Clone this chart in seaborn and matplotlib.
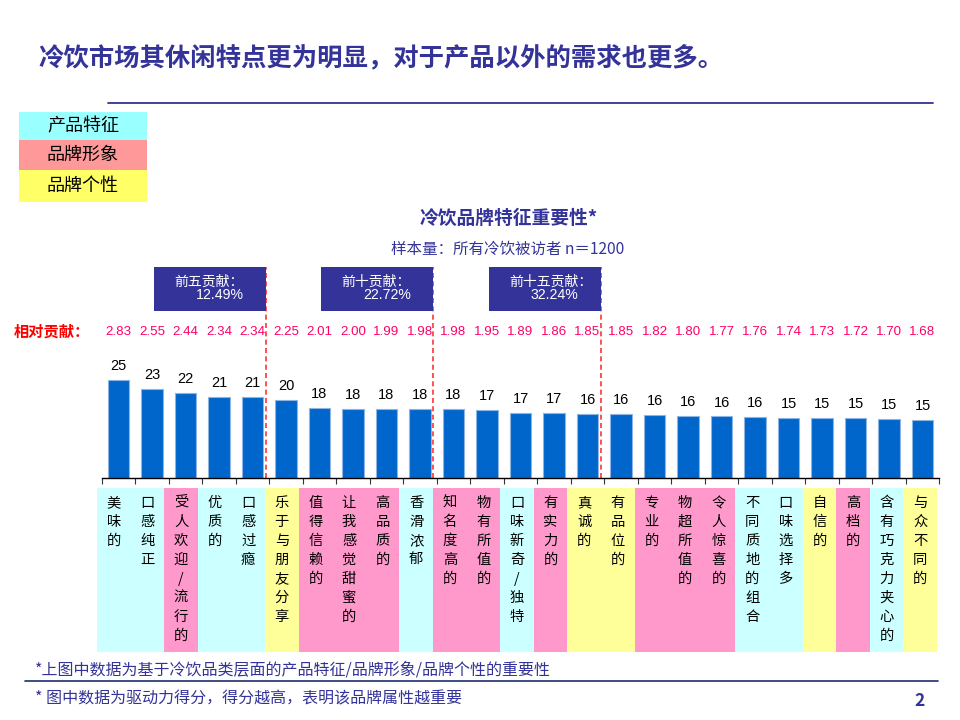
import matplotlib
matplotlib.use('Agg')
import matplotlib.pyplot as plt
from matplotlib.patches import Rectangle
from matplotlib.lines import Line2D
import seaborn as sns
import pandas as pd

# chart data
categories = ['美味的', '口感纯正', '受人欢迎/流行的', '优质的', '口感过瘾',
              '乐于与朋友分享', '值得信赖的', '让我感觉甜蜜的', '高品质的', '香滑浓郁',
              '知名度高的', '物有所值的', '口味新奇/独特', '有实力的', '真诚的',
              '有品位的', '专业的', '物超所值的', '令人惊喜的', '不同质地的组合',
              '口味选择多', '自信的', '高档的', '含有巧克力夹心的', '与众不同的']
groups = ['产品特征', '产品特征', '品牌形象', '产品特征', '产品特征',
          '品牌个性', '品牌形象', '品牌形象', '品牌形象', '产品特征',
          '品牌形象', '品牌形象', '产品特征', '品牌形象', '品牌个性',
          '品牌个性', '品牌形象', '品牌形象', '品牌形象', '产品特征',
          '产品特征', '品牌个性', '品牌形象', '产品特征', '品牌个性']
scores = [25.0, 22.6, 21.6, 20.7, 20.7, 19.9, 17.8, 17.7, 17.6, 17.5,
          17.5, 17.3, 16.7, 16.6, 16.4, 16.4, 16.1, 15.9, 15.7, 15.6,
          15.4, 15.3, 15.2, 15.0, 14.9]
contrib = [2.83, 2.55, 2.44, 2.34, 2.34, 2.25, 2.01, 2.00, 1.99, 1.98,
           1.98, 1.95, 1.89, 1.86, 1.85, 1.85, 1.82, 1.80, 1.77, 1.76,
           1.74, 1.73, 1.72, 1.70, 1.68]
cum_names = ['前五贡献：', '前十贡献：', '前十五贡献：']
cum_values = ['12.49%', '22.72%', '32.24%']
cum_after = [5, 10, 15]
legend_names = ['产品特征', '品牌形象', '品牌个性']

band_colors = {'产品特征': '#CCFFFF', '品牌形象': '#FF99CC', '品牌个性': '#FFFF99'}
legend_colors = ['#99FFFF', '#FF9999', '#FFFF66']
navy = '#333399'
num_font = ['Liberation Sans', 'DejaVu Sans']

df = pd.DataFrame({'cat': categories, 'score': scores, 'group': groups})

sns.set_style('white')
plt.rcParams['font.family'] = ['Noto Sans CJK SC', 'DejaVu Sans']

W, H = 960, 720
fig = plt.figure(figsize=(9.6, 7.2), dpi=100)


def fx(x):
    return x / W


def fy(y):
    return 1 - y / H


# headline + rule
fig.text(fx(38), fy(58), '冷饮市场其休闲特点更为明显，对于产品以外的需求也更多。',
         fontsize=18.3, fontweight='bold', color=navy, va='center', ha='left')
fig.add_artist(Line2D([fx(108), fx(933)], [fy(103), fy(103)], color=navy, lw=1.3,
                      transform=fig.transFigure))

# legend boxes
leg_y = [(112, 140), (140, 170), (170, 202)]
for name, c, (y0, y1) in zip(legend_names, legend_colors, leg_y):
    fig.add_artist(Rectangle((fx(19), fy(y1)), fx(147) - fx(19), fy(y0) - fy(y1),
                             facecolor=c, edgecolor='none', transform=fig.transFigure))
    fig.text(fx(83), fy((y0 + y1) / 2), name, fontsize=13, ha='center', va='center',
             color='black')

# chart titles
fig.text(fx(509), fy(218), '冷饮品牌特征重要性*', fontsize=13.5, fontweight='bold',
         color=navy, ha='center', va='center')
fig.text(fx(508), fy(249), '样本量：所有冷饮被访者 n＝1200', fontsize=11.2,
         color=navy, ha='center', va='center')

# bar axes
base, top = 478, 260
ax = fig.add_axes([fx(101.7), fy(base), fx(939.3) - fx(101.7), (base - top) / H])
px_per_unit = 3.92
ymax = (base - top) / px_per_unit
sns.barplot(data=df, x='cat', y='score', color='#0066CC', saturation=1, width=0.63,
            edgecolor='#8DB4E2', linewidth=0.8, ax=ax)
ax.set_xlim(-0.5, len(categories) - 0.5)
ax.set_ylim(0, ymax)
ax.set_xlabel('')
ax.set_ylabel('')
ax.set_yticks([])
ax.set_xticks([])
ax.set_xticks([i - 0.5 for i in range(len(categories) + 1)], minor=True)
ax.tick_params(axis='x', which='minor', direction='out', length=4, width=0.8,
               color='#333333', bottom=True)
for s in ['top', 'right', 'left']:
    ax.spines[s].set_visible(False)
ax.spines['bottom'].set_color('black')
ax.spines['bottom'].set_linewidth(1)
ax.patch.set_alpha(0)

for i, v in enumerate(scores):
    ax.annotate(f'{v:.0f}', (i, v), xytext=(0, 5), textcoords='offset points',
                ha='center', va='bottom', fontsize=10.5, color='black',
                family=num_font)
    ax.text(i, (base - 332) / px_per_unit, f'{contrib[i]:.2f}', ha='center',
            va='center', fontsize=9.6, color='#FF0066', family=num_font)

fig.text(fx(14), fy(332), '相对贡献：', fontsize=11, fontweight='bold', color='#FF0000',
         ha='left', va='center')

box_top = (base - 267) / px_per_unit
box_bot = (base - 310.7) / px_per_unit
box_w = 112 / 33.5
for n, name, val in zip(cum_after, cum_names, cum_values):
    xr = n - 0.5 - 0.1
    ax.vlines(xr, 0, box_top, colors='#FF3333', linestyles=(0, (3, 2)), lw=1.2,
              zorder=1)
    ax.add_patch(Rectangle((xr - box_w, box_bot), box_w, box_top - box_bot,
                           facecolor=navy, edgecolor='none', zorder=3,
                           clip_on=False))
    ax.text(xr - box_w + 0.6, (base - 281.5) / px_per_unit, name, color='white',
            fontsize=10, ha='left', va='center', zorder=4)
    ax.text(xr - box_w + 1.24, (base - 295) / px_per_unit, val, color='white',
            fontsize=10.2, ha='left', va='center', zorder=4, family=num_font)

# category band axes
b_top, b_bot = 488, 652
ax2 = fig.add_axes([fx(97), fy(b_bot), fx(937) - fx(97), (b_bot - b_top) / H])
ax2.bar(range(len(categories)), [1] * len(categories), width=1.0,
        color=[band_colors[g] for g in groups], edgecolor='none')
ax2.set_xlim(-0.5, len(categories) - 0.5)
ax2.set_ylim(0, 1)
ax2.axis('off')
step = 19 / (b_bot - b_top)
for i, name in enumerate(categories):
    for j, ch in enumerate(name):
        ax2.text(i, 1 - 15 / (b_bot - b_top) - j * step, ch, ha='center', va='center',
                 fontsize=10.3, color='black')

# footnotes
fig.text(fx(35), fy(670), '*上图中数据为基于冷饮品类层面的产品特征/品牌形象/品牌个性的重要性',
         fontsize=11.5, color=navy, ha='left', va='center', style='italic')
fig.add_artist(Line2D([fx(25), fx(938)], [fy(681), fy(681)], color='#1F2F6F', lw=1.2,
                      transform=fig.transFigure))
fig.text(fx(35), fy(699), '* 图中数据为驱动力得分，得分越高，表明该品牌属性越重要',
         fontsize=11.5, color=navy, ha='left', va='center', style='italic')
fig.text(fx(920), fy(701), '2', fontsize=12.5, fontweight='bold', color=navy,
         ha='center', va='center')

fig.savefig('out.png', dpi=100)
